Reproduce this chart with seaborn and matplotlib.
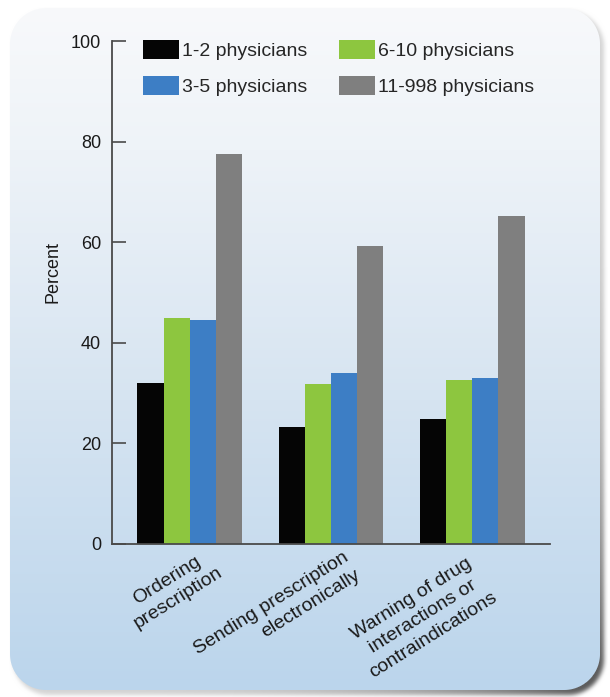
import numpy as np
import pandas as pd
import matplotlib
matplotlib.use("Agg")
import matplotlib.pyplot as plt
import matplotlib.transforms as mtransforms
import seaborn as sns

# ---------------- data ----------------
features = [
    "Ordering\nprescription",
    "Sending prescription\nelectronically",
    "Warning of drug\ninteractions or\ncontraindications",
]
practice_sizes = ["1-2 physicians", "6-10 physicians", "3-5 physicians", "11-998 physicians"]
pct_1_2 = [32.0, 23.3, 24.8]
pct_6_10 = [44.9, 31.8, 32.6]
pct_3_5 = [44.5, 33.9, 33.1]
pct_11_998 = [77.5, 59.2, 65.2]
y_ticks = [0, 20, 40, 60, 80, 100]

bar_colors = ["#050505", "#8DC63F", "#3D7EC5", "#7F7F7F"]

df = pd.DataFrame({
    "feature": features * len(practice_sizes),
    "size": np.repeat(practice_sizes, len(features)),
    "percent": pct_1_2 + pct_6_10 + pct_3_5 + pct_11_998,
})

sns.set_theme(style="white")
plt.rcParams["font.family"] = ["Liberation Sans", "DejaVu Sans"]

W, H = 610, 697
fig = plt.figure(figsize=(W / 100, H / 100), dpi=100)
fig.patch.set_facecolor("white")


# ---------------- rounded panel background ----------------
def rrect_sdf(xx, yy, x0, y0, x1, y1, r):
    cx, cy = (x0 + x1) / 2, (y0 + y1) / 2
    hx, hy = (x1 - x0) / 2 - r, (y1 - y0) / 2 - r
    qx = np.abs(xx - cx) - hx
    qy = np.abs(yy - cy) - hy
    outside = np.hypot(np.maximum(qx, 0), np.maximum(qy, 0))
    inside = np.minimum(np.maximum(qx, qy), 0)
    return outside + inside - r


def blur(a, k):
    kern = np.ones(2 * k + 1) / (2 * k + 1)
    a = np.apply_along_axis(lambda m: np.convolve(m, kern, mode="same"), 0, a)
    a = np.apply_along_axis(lambda m: np.convolve(m, kern, mode="same"), 1, a)
    return a


yy, xx = np.mgrid[0:H, 0:W] + 0.5
px0, py0, px1, py1, rad = 10, 8, 600, 690, 36

img = np.ones((H, W, 3))

# soft drop shadow, heavier toward the lower right
sh = np.clip(0.5 - rrect_sdf(xx, yy, px0 + 3, py0 + 3, px1 + 4, py1 + 5, rad), 0, 1)
sh = blur(blur(sh, 2), 2)
strength = 0.22 + 0.75 * (xx / W) ** 3 * (yy / H) ** 3
a_s = (sh * np.clip(strength, 0, 0.95))[..., None]
img = img * (1 - a_s) + np.array([0.25, 0.25, 0.25]) * a_s

# vertical gradient fill of the panel
stops_y = [py0, 150, 400, py1]
stops_c = np.array([[248, 249, 251], [238, 243, 248], [214, 228, 241], [187, 213, 236]]) / 255
grad = np.stack([np.interp(yy, stops_y, stops_c[:, i]) for i in range(3)], axis=-1)
cov = np.clip(0.5 - rrect_sdf(xx, yy, px0, py0, px1, py1, rad), 0, 1)[..., None]
img = img * (1 - cov) + grad * cov

bg = fig.add_axes([0, 0, 1, 1], zorder=0)
bg.imshow(img, extent=(0, W, H, 0), aspect="auto", interpolation="nearest")
bg.set_xlim(0, W)
bg.set_ylim(H, 0)
bg.axis("off")

# ---------------- bar chart ----------------
ax = fig.add_axes([112 / W, 1 - 544 / H, 438 / W, 503 / H], zorder=2)
ax.patch.set_alpha(0)

sns.barplot(
    data=df, x="feature", y="percent", hue="size",
    order=features, hue_order=practice_sizes, palette=bar_colors,
    saturation=1, width=0.74, gap=0, errorbar=None, linewidth=0, ax=ax,
)

ax.set_xlim(-0.55, 2.55)
ax.set_ylim(0, 100)
ax.set_yticks(y_ticks)
ax.set_xlabel("")
ax.set_ylabel("Percent", fontsize=13, color="#1a1a1a")
ax.yaxis.set_label_coords(-0.115, 0.54)

for side in ("top", "right"):
    ax.spines[side].set_visible(False)
for side in ("left", "bottom"):
    ax.spines[side].set_color("#4a4a4a")
    ax.spines[side].set_linewidth(1.3)

ax.tick_params(axis="y", direction="in", length=10, width=1.2, color="#4a4a4a",
               labelsize=13, labelcolor="#1a1a1a", pad=8, left=True)
ax.tick_params(axis="x", length=0, labelbottom=False)

# rotated category labels under each group
tick_pos = ax.get_xticks()
label_offsets = [(16, 2), (12, 5), (-3, 9)]
label_align = ["center", "right", "center"]
for pos, name, (dx, dy), al in zip(tick_pos, features, label_offsets, label_align):
    tr = ax.get_xaxis_transform() + mtransforms.ScaledTranslation(dx / 100, -dy / 100, fig.dpi_scale_trans)
    ax.text(pos, 0, name, transform=tr, rotation=32, rotation_mode="anchor",
            ha="right", va="top", multialignment=al, fontsize=14,
            linespacing=1.3, color="#1a1a1a", clip_on=False)

# legend in two columns
leg = ax.get_legend()
handles = list(leg.legend_handles)
labels = [t.get_text() for t in leg.get_texts()]
leg.remove()
order = [0, 2, 1, 3]
fig.legend(
    [handles[i] for i in order], [labels[i] for i in order],
    loc="upper left", bbox_to_anchor=(143 / W, 1 - 40 / H), ncol=2,
    frameon=False, fontsize=14, handlelength=1.85, handleheight=1.13,
    handletextpad=0.15, columnspacing=1.66, labelspacing=0.82,
    borderpad=0, borderaxespad=0,
)

fig.savefig("out.png", dpi=100)
